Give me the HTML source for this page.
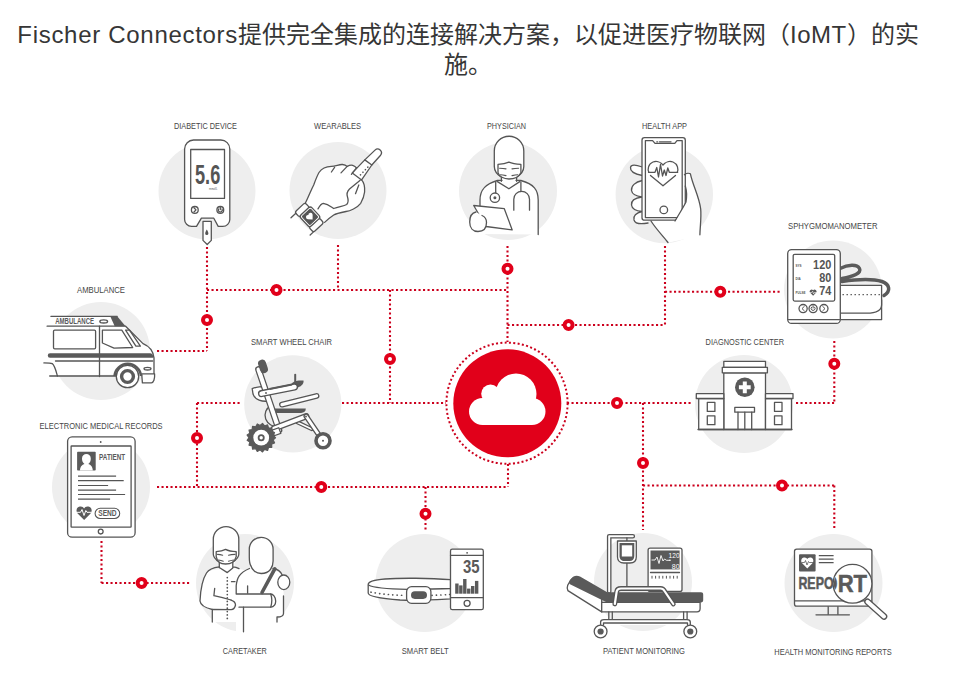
<!DOCTYPE html>
<html lang="zh-CN"><head><meta charset="utf-8"><style>
html,body{margin:0;padding:0;background:#fff;width:977px;height:699px;overflow:hidden}
.t{position:absolute;left:0;top:0;width:936px;text-align:center;font-family:"Liberation Sans",sans-serif;font-size:24px;line-height:30px;color:#363636;padding-top:20px}
.t span{letter-spacing:0.7px} .t b{font-weight:normal;letter-spacing:0.5px}
svg{position:absolute;left:0;top:0}
.lb{font-family:"Liberation Sans",sans-serif;font-size:9.6px;fill:#464646}
.ic{fill:none;stroke:#555;stroke-width:1.3;stroke-linejoin:round;stroke-linecap:round}
</style></head><body>
<div class="t"><span>Fischer Connectors</span>提供完全集成的连接解决方案，以促进医疗物联网（<b>IoMT</b>）的实<br>施。</div>
<svg width="977" height="699" viewBox="0 0 977 699">
<circle cx="207" cy="191" r="48.5" fill="#eeeeee"/>
<circle cx="338" cy="190.5" r="48.5" fill="#eeeeee"/>
<circle cx="508" cy="191" r="49" fill="#eeeeee"/>
<circle cx="664.3" cy="194.5" r="48.7" fill="#eeeeee"/>
<circle cx="833" cy="289.5" r="49" fill="#eeeeee"/>
<circle cx="101" cy="351" r="49" fill="#eeeeee"/>
<circle cx="292.8" cy="403.8" r="48.6" fill="#eeeeee"/>
<circle cx="744" cy="404" r="49" fill="#eeeeee"/>
<circle cx="101" cy="487" r="49" fill="#eeeeee"/>
<circle cx="245" cy="583" r="49" fill="#eeeeee"/>
<circle cx="424.5" cy="583" r="49" fill="#eeeeee"/>
<circle cx="643" cy="582" r="49" fill="#eeeeee"/>
<circle cx="833.5" cy="583" r="49" fill="#eeeeee"/>
<path d="M207 247L207 351 M157 351L207 351 M207 290L507 290 M338 245L338 290 M390 290L390 403 M507.5 246L507.5 342 M507.5 325L665 325 M665 246L665 325 M665 291.8L782 291.8 M834.3 341L834.3 403 M796 403L834.3 403 M197 403L240 403 M342 403L446 403 M197 403L197 487 M157 487L508 487 M508 464L508 487 M425.5 487L425.5 531 M567 403L692 403 M643 403L643 530 M643 485.5L834.3 485.5 M834.3 485.5L834.3 530 M101.5 541L101.5 583 M101.5 583L191 583" stroke="#cc001d" stroke-width="2.1" stroke-dasharray="2.1 2.4" fill="none"/>
<circle cx="507" cy="403.2" r="60.6" fill="none" stroke="#cc001d" stroke-width="2" stroke-dasharray="2 2.35"/>
<circle cx="507.3" cy="403.3" r="54" fill="#e1001a"/>
<g fill="#fff"><circle cx="482.5" cy="411.5" r="13.5"/><circle cx="490.5" cy="393.8" r="9.3"/><circle cx="516" cy="394" r="20.5"/><circle cx="532" cy="411.5" r="13.5"/><rect x="482.5" y="400" width="49.5" height="25"/></g>
<circle cx="276.5" cy="290" r="4" fill="#fff" stroke="#e1001a" stroke-width="4"/>
<circle cx="207" cy="320" r="4" fill="#fff" stroke="#e1001a" stroke-width="4"/>
<circle cx="507.5" cy="268.8" r="4" fill="#fff" stroke="#e1001a" stroke-width="4"/>
<circle cx="568.6" cy="325" r="4" fill="#fff" stroke="#e1001a" stroke-width="4"/>
<circle cx="720.3" cy="291.8" r="4" fill="#fff" stroke="#e1001a" stroke-width="4"/>
<circle cx="834.3" cy="363.7" r="4" fill="#fff" stroke="#e1001a" stroke-width="4"/>
<circle cx="197" cy="438" r="4" fill="#fff" stroke="#e1001a" stroke-width="4"/>
<circle cx="321.3" cy="487" r="4" fill="#fff" stroke="#e1001a" stroke-width="4"/>
<circle cx="425.5" cy="513.8" r="4" fill="#fff" stroke="#e1001a" stroke-width="4"/>
<circle cx="617" cy="403" r="4" fill="#fff" stroke="#e1001a" stroke-width="4"/>
<circle cx="643" cy="463" r="4" fill="#fff" stroke="#e1001a" stroke-width="4"/>
<circle cx="782" cy="485.5" r="4" fill="#fff" stroke="#e1001a" stroke-width="4"/>
<circle cx="141.6" cy="583" r="4" fill="#fff" stroke="#e1001a" stroke-width="4"/>
<circle cx="390" cy="359" r="4" fill="#fff" stroke="#e1001a" stroke-width="4"/>
<text x="174" y="129" textLength="63.0" lengthAdjust="spacingAndGlyphs" class="lb">DIABETIC DEVICE</text>
<text x="314" y="129" textLength="47.0" lengthAdjust="spacingAndGlyphs" class="lb">WEARABLES</text>
<text x="487" y="129" textLength="39.0" lengthAdjust="spacingAndGlyphs" class="lb">PHYSICIAN</text>
<text x="642" y="129" textLength="45.0" lengthAdjust="spacingAndGlyphs" class="lb">HEALTH APP</text>
<text x="788" y="229" textLength="89.5" lengthAdjust="spacingAndGlyphs" class="lb">SPHYGMOMANOMETER</text>
<text x="77" y="293" textLength="48.0" lengthAdjust="spacingAndGlyphs" class="lb">AMBULANCE</text>
<text x="251" y="345" textLength="81.0" lengthAdjust="spacingAndGlyphs" class="lb">SMART WHEEL CHAIR</text>
<text x="705.6" y="345" textLength="78.4" lengthAdjust="spacingAndGlyphs" class="lb">DIAGNOSTIC CENTER</text>
<text x="39.6" y="429" textLength="123.0" lengthAdjust="spacingAndGlyphs" class="lb">ELECTRONIC MEDICAL RECORDS</text>
<text x="222.8" y="654" textLength="44.0" lengthAdjust="spacingAndGlyphs" class="lb">CARETAKER</text>
<text x="401.7" y="654" textLength="47.1" lengthAdjust="spacingAndGlyphs" class="lb">SMART BELT</text>
<text x="603" y="654" textLength="82.0" lengthAdjust="spacingAndGlyphs" class="lb">PATIENT MONITORING</text>
<text x="774.3" y="654.5" textLength="117.4" lengthAdjust="spacingAndGlyphs" class="lb">HEALTH MONITORING REPORTS</text>
<g class="ic">
<path d="M193.5 140 H220.8 A9 9 0 0 1 229.8 149 V219.4 A7 7 0 0 1 222.8 226.4 H218.2 L213.8 218.2 H201.4 L196.5 226.4 H191.5 A7 7 0 0 1 184.6 219.4 V149 A9 9 0 0 1 193.5 140 Z" fill="#fff"/>
<rect x="190.7" y="149.5" width="33.8" height="48.9" fill="#fff"/>
<circle cx="194.8" cy="209.9" r="3.4"/><path d="M194 207.8 L196 209.9 L194 212" />
<circle cx="220.3" cy="209.9" r="3.4"/><path d="M218.6 209 A2 2 0 1 0 222 209"/><path d="M220.3 207.4 V209.5"/>
<path d="M203 221.4 H211.3 V240.4 L207.2 244.5 L203 240.4 Z" fill="#fff"/>
</g>
<path d="M206.8 229.5 C205.6 231.6 205.2 232.5 205.2 233.4 A1.6 1.6 0 0 0 208.4 233.4 C208.4 232.5 208 231.6 206.8 229.5Z" fill="#555"/>
<text x="195" y="184.4" textLength="25.3" lengthAdjust="spacingAndGlyphs" font-family="Liberation Sans" font-weight="bold" font-size="27.5" fill="#555">5.6</text>
<text x="209" y="189.8" font-family="Liberation Sans" font-size="2.6" fill="#555" textLength="8.5" lengthAdjust="spacingAndGlyphs">mmol/L</text><g class="ic">
<path d="M305.5 202.8 C309 196 311 190 313.7 185 C315.5 180 317 176 319 172.5 C322 168 327 166.5 331.4 166.4 C336 166.3 339 164.2 342.5 164.5 C345 164.7 346.2 165.5 347.2 166.4 C349.5 165.2 351.5 165 352.7 165.4 C354.5 166 355.8 167 356.5 168 L364.8 159.9 L375 150.1 A3.8 3.8 0 0 1 380.6 155.2 L371.8 165 L361.6 179.9 C364.5 183 365 186 364.6 192 C364 197 362 201 360.7 203.3 C357 208 350 211 346 211.5 C341 212.5 336 213.5 333.7 215 C330 217.5 327 220 324.6 222.4 L310 225 L298 214 Z" fill="#fff" stroke="none"/>
<path d="M305.5 202.8 C309 196 311 190 313.7 185 C315.5 180 317 176 319 172.5 C322 168 327 166.5 331.4 166.4 C336 166.3 339 164.2 342.5 164.5 C345 164.7 346.2 165.5 347.2 166.4 C349.5 165.2 351.5 165 352.7 165.4 C354.5 166 355.8 167 356.5 168"/>
<path d="M334.6 167.3 L331.4 172 M347.2 166.4 L341 172.9 M356.5 167.8 L351.4 174.3"/>
<path d="M352.3 172.9 L364.8 159.9 L371.8 165 L361.6 179.9 Z"/>
<path d="M360.5 174.8 L368 167" stroke-dasharray="0.1 3.4" stroke-width="1.6"/>
<path d="M364.8 159.9 L375 150.1 A3.8 3.8 0 0 1 380.6 155.2 L371.8 165"/>
<path d="M360.2 180.3 L349.5 189 C347 191.5 346.5 194 347.5 197 C348.5 200 349 202 346.7 204.5 C344 206 340 206.5 333.7 208.5 C330 206 328 204 323.3 203.3 C321 203.5 319.5 206 318 208.9"/>
<path d="M361.6 179.9 C364.5 183 365 186 364.6 192 C364 197 362 201 360.7 203.3 C357 208 350 211 346 211.5 C341 212.5 336 213.5 333.7 215 C330 217.5 327 220 324.6 222.4"/>
<path d="M358.8 185 L355.5 193.7"/>
<g transform="translate(310 216.8) rotate(-43)">
<rect x="-8" y="-13.8" width="14" height="7" rx="2.2" fill="#fff"/>
<rect x="-8" y="6.8" width="14" height="7" rx="2.2" fill="#fff"/>
<path d="M-8 -12.2 H-14.6 M-7.7 13.4 H-12.3" transform="translate(0 0)"/>
<rect x="-7.6" y="-7.6" width="15.2" height="15.2" rx="2.5" fill="#fff"/>
<rect x="-5.6" y="-5.6" width="11.2" height="11.2" rx="1" fill="#555" stroke-width="1"/>
<path d="M0 3.8 L-3.3 0.3 A1.9 1.9 0 0 1 0 -2.4 A1.9 1.9 0 0 1 3.3 0.3 Z" fill="#fff" stroke="none" transform="rotate(0)"/>
</g>
</g><path d="M480 234 V200 C480 190 485 184 497.4 180.5 L501.4 180 V177.3 C498 175 494.3 171 494.3 166.4 V151 A14.75 14.75 0 0 1 523.8 151 V166.4 C523.8 171 520 175 516.6 177.3 V180 L520.9 180.5 C534 184 538.2 190 538.2 200 V234.6 Z" fill="#fff"/>
<g class="ic">
<path d="M480 206 V200 C480 190 485 184 497.4 180.5 L502 180.3 M516 180.3 L520.9 180.5 C534 184 538.2 190 538.2 200 V234.6"/>
<path d="M501.4 181.3 V177.3 C498 175 494.3 171 494.3 166.4 V151 A14.75 14.75 0 0 1 523.8 151 V166.4 C523.8 171 520 175 516.6 177.3 V181.3"/>
<path d="M497.4 181.6 L508.9 188.8 L519.8 181.6"/>
<path d="M498 164.4 C502 164.2 506 163.5 508.9 162.2 C511.8 163.5 516 164.2 520.9 164.4 V172.7 C519 176.5 514 179 508.9 179 C503.8 179 499 176.5 498 172.7 Z" fill="#fff"/>
<path d="M499.6 168.2 C502 168.3 504 168.5 506 168.9 M512 168.9 C514 168.5 516 168.3 518.6 168.2 M500.5 174.7 C502.5 174.9 504 175.2 506 175.6 M512 175.6 C514 175.2 515.5 174.9 517.8 174.7" stroke-width="1.1"/>
<path d="M495.7 182 V193"/>
<circle cx="494.9" cy="197.7" r="4.7" fill="#fff"/>
<path d="M520.9 182 V191.5"/>
<path d="M513.8 210.2 V199.2 A7.85 7.85 0 0 1 529.5 199.2 V210.2"/>
<path d="M473.7 205.5 L504.3 208.7 L512.2 229.9 L486 226.5 Z" fill="#fff"/>
<path d="M476 212 C471 213 469.7 217 469.7 222 C469.7 228 473 231.5 478 231.5 C483 231.5 486.5 228.5 486.5 222.5 C486.5 219 484.5 216.5 482 215.5" fill="#fff"/>
</g>
<circle cx="494.9" cy="197.7" r="1.5" fill="#555"/><g class="ic">
<path d="M642.3 167 C636 165 631 164 630.5 167.5 C630 171 635 174 642.3 175.5 M642.3 180.5 C635 182 631 186 631.5 190.5 C632 194 636 196 642 197 C635 198 631 201 631.5 205 C632 209 636 211 642 211.5 C636 213 633 216 634 220 C635 223.5 640 224.5 648 223" fill="#fff"/>
<path d="M645 219 L651 221 L668 242.5 L700 236 L686 200 Z" fill="#fff" stroke="none"/>
<rect x="642" y="137.7" width="43.3" height="82.5" rx="2.5" fill="#fff"/>
<path d="M645.4 217.6 V140.6 H652.6 L655 143.4 H674.8 L677 140.6 H682.2 V217.6 Z"/>
<path d="M659.5 141.8 H671 M656.8 141.8 H657.6"/>
<circle cx="663.8" cy="209.9" r="3.8"/>
<path d="M648.8 172.3 C647.5 169.5 648 164 653 162 C657 160.5 661 162.5 663 165 C665 162.5 669 160.5 673 162 C678 164 678.5 169.5 677.3 172.3 M650.5 175.5 L663 185.8 L675.5 175.5"/>
<path d="M648.5 172.3 H655 L656.8 167.5 L658.5 177 L660.5 164.5 L662.5 176 L664.3 170 L666 175.5 L667.8 168 L669.3 172.3 H677.7"/>
<path d="M675 222 C679 214 683 208 686 202 L686 174.5 C687.5 173.5 689 173 690.4 173.8 C693 186 699 196 700.7 209 C701.5 218 700 227 699.9 234.8 L668 242.5 Z" fill="#fff" stroke="none"/>
<path d="M651 221 C656 229 663 236 668 242.5" />
<path d="M684.4 174.7 C686 173.5 689 173 690.4 173.8 C693 186 699 196 700.7 209 C701.5 218 700 227 699.9 234.8 M675 221 C679 214 683 208 686 202 C687 196 686.5 190 685.3 186"/>
</g><path d="M840 268.5 C848 264.5 857 264 859.5 268.5 C862 273 853 276.5 842 278.5 M842 281.5 C856 279.5 872 278.5 882 281.5 C890 284.5 891 291 884 295.5" fill="none" stroke="#5a5a5a" stroke-width="3.5" stroke-linecap="round"/>
<g class="ic">
<path d="M840.3 300 V319.7 H881.6 V300" fill="#fff"/>
<path d="M840.3 285.3 H881.6 V304.8 C881.6 310 877 313.2 866.7 313.2 H840.3" fill="#fff"/>
<path d="M842.5 294.6 H880" stroke-dasharray="1.4 2.6" stroke-linecap="butt"/>
<rect x="787.7" y="249.6" width="52.6" height="73.8" rx="4" fill="#fff"/>
<path d="M788.5 319.6 H839.5"/>
<rect x="793.2" y="254.3" width="41.5" height="46.8" rx="1.5"/>
<circle cx="803.1" cy="308.6" r="4.1"/><circle cx="813.1" cy="308.6" r="4.1"/><circle cx="823.9" cy="308.6" r="4.1"/>
<path d="M804.3 306.4 L802 308.6 L804.3 310.8 M822.7 306.4 L825 308.6 L822.7 310.8 M811.5 307.2 A2 2 0 1 0 814.7 307.2 M813.1 305.8 V308" stroke-width="1"/>
</g>
<text x="813.1" y="268.6" textLength="18.3" lengthAdjust="spacingAndGlyphs" font-family="Liberation Sans" font-weight="bold" fill="#555" font-size="13.5">120</text>
<text x="819.3" y="281.6" textLength="12.1" lengthAdjust="spacingAndGlyphs" font-family="Liberation Sans" font-weight="bold" fill="#555" font-size="13">80</text>
<text x="819.3" y="295.2" textLength="12.1" lengthAdjust="spacingAndGlyphs" font-family="Liberation Sans" font-weight="bold" fill="#555" font-size="13.5">74</text>
<text x="795.5" y="266.5" font-family="Liberation Sans" font-weight="bold" fill="#555" font-size="3" font-weight="normal">SYS</text>
<text x="795.5" y="280.3" font-family="Liberation Sans" font-weight="bold" fill="#555" font-size="3" font-weight="normal">DIA</text>
<text x="795.5" y="294" font-family="Liberation Sans" font-weight="bold" fill="#555" font-size="3" font-weight="normal">PULSE</text>
<path d="M813.1 295.8 L810 292.6 A1.75 1.75 0 0 1 813.1 290.3 A1.75 1.75 0 0 1 816.2 292.6 Z" fill="#5a5a5a"/><path d="M810 292.5 H811.8 L812.6 291.2 L813.6 294 L814.3 292.5 H816.2" stroke="#fff" stroke-width="0.6" fill="none"/><g class="ic">
<path d="M50.9 316.3 H117.2 L125.6 326.2 L143 343.6 C149 346 153 350 154 357.8 V374.5 H116 L49.7 376 L57.4 376 C55 370 54 365 52.2 363.6 L47 362.9 V326.2 Z" fill="#fff" stroke="none"/>
<path d="M50.9 316.3 H117.2 M47.1 326.2 H125.6 L143 343.6 C149 346 153 350 154 357.8 V374.5"/>
<rect x="53.5" y="330.1" width="42.1" height="18.7" rx="1.2"/>
<path d="M99.5 326.2 V376.5"/>
<path d="M102.4 330.1 H121.8 L132.7 347.5 L114 348.1 L102.4 343 Z"/>
<path d="M125.6 330.1 L129.5 330.1 L140.4 346.2 L135.9 346.2 Z"/>
<path d="M55.5 361 H152.7"/>
<path d="M49.7 376 H116"/>
<path d="M43.9 362.9 C48 362.9 51 363 52.2 363.6 C55 366 56 371 57.4 376"/>
<path d="M141.7 373.9 H154.6 C155 379 153.5 382.9 151.4 382.9 H142.4 Z" fill="#fff"/>
<ellipse cx="103.7" cy="321.4" rx="3.9" ry="1.6"/>
<ellipse cx="147.5" cy="368.7" rx="3.5" ry="1.3"/>
</g>
<path d="M110.2 316.3 H117.2 L125.6 326.2 H114.7 Z" fill="#5a5a5a"/>
<path d="M50 353.3 H150 C152 353.3 153.3 355 153.3 357.8 H50 A2.25 2.25 0 0 1 50 353.3 Z" fill="#5a5a5a"/>
<path d="M114.5 376 A13.3 13.3 0 0 1 141 376" fill="none" stroke="#5a5a5a" stroke-width="2.6"/>
<circle cx="127.5" cy="376.5" r="11.2" fill="#fff" stroke="#555" stroke-width="1.3"/>
<circle cx="127.5" cy="376.5" r="5.9" fill="none" stroke="#5a5a5a" stroke-width="3.4"/>
<text x="55.2" y="324.1" textLength="38.9" lengthAdjust="spacingAndGlyphs" font-family="Liberation Sans" font-weight="bold" font-size="8.4" fill="#5a5a5a">AMBULANCE</text><g class="ic"><path d="M271 405.5 A11 11 0 0 0 278.5 426" /></g><path d="M252.2 388.6 C256 387 263 386 265 387.5 L269 401 C262 402 255 400 253 394 Z" fill="#fff" stroke="#555" stroke-width="1.3" stroke-linejoin="round"/><path d="M258.5 369.5L279 430" stroke="#555" stroke-width="6.7" stroke-linecap="round" fill="none"/><path d="M258.5 369.5L279 430" stroke="#fff" stroke-width="4.1000000000000005" stroke-linecap="round" fill="none"/><path d="M290 386 C292 381 297 380 303.5 380.5 C304 383 302 386 298 387.5 Z" fill="#5a5a5a"/><path d="M295.2 382 V374.8" stroke="#5a5a5a" stroke-width="2" stroke-linecap="round"/><path d="M261.5 393.6L294.5 387" stroke="#555" stroke-width="7.1" stroke-linecap="round" fill="none"/><path d="M261.5 393.6L294.5 387" stroke="#fff" stroke-width="4.5" stroke-linecap="round" fill="none"/><path d="M269.5 389 L292 384.5" stroke="#5a5a5a" stroke-width="1.9" /><rect x="259" y="359.5" width="8" height="13.8" rx="3.8" fill="#5a5a5a" transform="rotate(-18 263 366.4)"/><path d="M274.3 408.6 H305.8 C305.8 411.5 304 413 301 413 H276 Z" fill="#5a5a5a"/><path d="M282 404.6L316.5 396" stroke="#555" stroke-width="5.8999999999999995" stroke-linecap="round" fill="none"/><path d="M282 404.6L316.5 396" stroke="#fff" stroke-width="3.3" stroke-linecap="round" fill="none"/><path d="M297.2 422.2L311.5 429" stroke="#555" stroke-width="4.1" stroke-linecap="round" fill="none"/><path d="M297.2 422.2L311.5 429" stroke="#fff" stroke-width="1.4999999999999998" stroke-linecap="round" fill="none"/><path d="M274 428.5L306.2 416.2" stroke="#555" stroke-width="6.3" stroke-linecap="round" fill="none"/><path d="M274 428.5L306.2 416.2" stroke="#fff" stroke-width="3.7" stroke-linecap="round" fill="none"/><path d="M306.2 416.2L322.5 440.3" stroke="#555" stroke-width="5.5" stroke-linecap="round" fill="none"/><path d="M306.2 416.2L322.5 440.3" stroke="#fff" stroke-width="2.9000000000000004" stroke-linecap="round" fill="none"/><circle cx="306" cy="416.5" r="0.9" fill="#555"/><circle cx="266" cy="393" r="0.9" fill="#555"/><rect x="273" y="429" width="7" height="6" fill="#fff" stroke="#555" stroke-width="1.2" transform="rotate(-20 276 432)"/><path d="M275.50 437.70 L273.19 439.94 L274.53 442.87 L271.57 444.12 L271.77 447.33 L268.55 447.44 L267.57 450.50 L264.54 449.43 L262.52 451.94 L260.07 449.85 L257.29 451.45 L255.76 448.62 L252.58 449.11 L252.18 445.92 L249.04 445.23 L249.82 442.11 L247.14 440.33 L249.00 437.70 L247.14 435.07 L249.82 433.29 L249.04 430.17 L252.18 429.48 L252.58 426.29 L255.76 426.78 L257.29 423.95 L260.07 425.55 L262.52 423.46 L264.54 425.97 L267.57 424.90 L268.55 427.96 L271.77 428.07 L271.57 431.28 L274.53 432.53 L273.19 435.46Z" fill="#5a5a5a" stroke="#5a5a5a" stroke-width="1.2" stroke-linejoin="round"/><circle cx="261.2" cy="437.7" r="7.9" fill="#fff"/><circle cx="261.2" cy="437.7" r="2.6" fill="none" stroke="#5a5a5a" stroke-width="1.8"/><circle cx="323" cy="440.8" r="7" fill="#fff" stroke="#5a5a5a" stroke-width="3.6"/><circle cx="323" cy="440.8" r="1" fill="#555"/><g class="ic" stroke-linecap="butt" stroke-linejoin="miter">
<rect x="723.8" y="361.3" width="41.7" height="6" fill="#fff"/>
<rect x="723.8" y="372.8" width="41.7" height="56.7" fill="#fff"/>
<rect x="722.3" y="367.3" width="45.1" height="5.5" fill="#fff"/>
<rect x="698.7" y="398.5" width="25.1" height="31" fill="#fff"/>
<rect x="765.5" y="398.5" width="26" height="31" fill="#fff"/>
<rect x="696.3" y="393.7" width="27.5" height="4.8" fill="#fff"/>
<rect x="765.5" y="393.7" width="27.5" height="4.8" fill="#fff"/>
<rect x="707.3" y="402.4" width="7.6" height="9"/><rect x="707.3" y="415.8" width="7.6" height="8.9"/>
<rect x="774.5" y="402.4" width="7.5" height="9"/><rect x="774.5" y="415.8" width="7.5" height="8.9"/>
<rect x="734.8" y="407.4" width="19.7" height="4.8" fill="#fff"/>
<path d="M738 412.2 V429.5 M751.7 412.2 V429.5 M744.8 412.2 V429.5"/>
<path d="M698 429.5 H792"/>
</g>
<circle cx="744.8" cy="387.3" r="9.8" fill="#5a5a5a"/>
<path d="M742.8 381.4 H746.8 V385.3 H750.7 V389.3 H746.8 V393.2 H742.8 V389.3 H738.9 V385.3 H742.8 Z" fill="#fff"/><g class="ic">
<rect x="67.6" y="436.8" width="67.5" height="100.4" rx="4.5" fill="#fff"/>
<rect x="71.1" y="446" width="60" height="81.2" rx="0.5"/>
<circle cx="100.7" cy="531.6" r="2.4"/>
<path d="M78 476.1 H116.1 M78 480.7 H123.7 M78 485.5 H108.1 M78 490.1 H116.1 M78 494.5 H125.1 M78 499.1 H110.1" stroke-width="1.2" stroke-linecap="butt"/>
<rect x="95.1" y="508.3" width="24.6" height="10.2" rx="5.1" stroke-width="1.1"/>
</g>
<circle cx="100.7" cy="442" r="0.9" fill="#555"/>
<rect x="77.1" y="451.7" width="18.6" height="18.8" rx="0.8" fill="#5a5a5a"/>
<path d="M80 470.5 C80 466 83 464.5 84.5 464 C82.5 462.5 82 460.5 82 458.5 C82 455.5 84 454 86.4 454 C88.8 454 90.8 455.5 90.8 458.5 C90.8 460.5 90.3 462.5 88.3 464 C89.8 464.5 92.8 466 92.8 470.5 Z" fill="#fff"/>
<text x="99.1" y="460" textLength="26" lengthAdjust="spacingAndGlyphs" font-family="Liberation Sans" font-weight="bold" font-size="9.4" fill="#5a5a5a">PATIENT</text>
<text x="98.2" y="516.4" textLength="18.5" lengthAdjust="spacingAndGlyphs" font-family="Liberation Sans" font-weight="bold" font-size="8.6" fill="#5a5a5a">SEND</text>
<path d="M84.1 520 L77.6 513.5 C75.8 511.5 76 507.5 79.8 506.6 C82 506.2 83.3 507.3 84.1 508.5 C84.9 507.3 86.2 506.2 88.4 506.6 C92.2 507.5 92.4 511.5 90.6 513.5 Z" fill="#5a5a5a"/>
<path d="M76.5 512.3 H80.5 L82 509.5 L84 515.5 L85.8 510.5 L87 512.3 H91.5" fill="none" stroke="#fff" stroke-width="1"/><path d="M212.3 622 V609.5 C206 608 200.5 606 200 601 C200.5 590 202 580 206.5 573 C210 570 215 569.5 219.7 569.3 V563.6 C216 561 213.1 558 213.1 554 V539.3 A12.75 12.75 0 0 1 238.6 539.3 V554 C238.6 558 236 561 234.5 563.6 V568.5 C242 569 244 570 246 571 L246 622 Z" fill="#fff"/>
<g class="ic">
<path d="M212.3 622 V609.5 C206 608 200.5 606 200 601 C200.5 590 202 580 206.5 573 C209 569 214 567.5 219.3 566.9"/>
<path d="M219.3 567.5 V562.3 C216 560 213.3 557.5 213.3 554.3 V539.3 A12.75 12.75 0 0 1 238.8 539.3 V554.3 C238.8 557.5 236 560 232.8 562.3 V567.5 M232.8 566.9 C235 567 237 567.5 239 568.6"/>
<path d="M219.3 567.5 L227.3 572.6 L232.8 568"/>
<path d="M216.2 551.7 C219.5 551.5 223 550.8 225.6 549.4 C228.2 550.8 231.5 551.5 236.2 551.7 V556.6 C235 561 231 564 225.6 564 C220.2 564 217 561 216.2 556.6 Z" fill="#fff"/>
<path d="M217.5 554.4 C219 554.5 221 554.8 222.7 555.2 M228.5 555.2 C230 554.8 232 554.5 235 554.4 M218.4 560 C220 560.3 221.7 560.7 223.3 561.2 M228.5 561.2 C230 560.7 232 560.3 233.6 560" stroke-width="1.1"/>
<path d="M214.7 588.3 L213.9 595.7 C220 597 226 598.5 231 600"/>
<path d="M227.3 577.5 V621.5" stroke-dasharray="0.1 3.3" stroke-width="1.7"/>
<path d="M231.5 581.7 H235"/>
</g>
<path d="M236 632 V585.8 C237 578 239 573 249.3 568.5 L251 566 C249.5 564 249.3 561 249.3 557 V549.2 A11.9 11.9 0 0 1 273.1 549.2 V561 C273.1 567 271 571 270 572 C276 570 281 572 283.5 576 V613.5 C283.5 616 281 617 277 617 V632 Z" fill="#fff"/>
<g class="ic">
<path d="M251 566 C249.5 564 249.3 561 249.3 557 V549.2 A11.9 11.9 0 0 1 273.1 549.2 V561 C273.1 567 270 573.5 261.2 573.5 C256 573.5 252 570 251 566 Z"/>
<path d="M249.5 568.5 C239 573 237 578 236.2 585.8 V594 H270.7 C273 594 275.5 597 275.6 600.6 C276 604 274 607 270.7 607.2 H239"/>
<path d="M231 600 C234.5 601 235.5 603 235.5 605 C235 607.5 233 609.5 231.2 609.6 C226 609.5 216 609.5 212.3 609.5"/>
<path d="M243.5 607.2 V631.8 M247.6 585.8 V593.2 M270.7 594 C272 597.5 272 603 270.7 607.2"/>
<path d="M273 568.5 C278 569 281 572 282.5 575.5" />
<path d="M283.5 596 V613.5 C283.5 616 281 617 277 617 V622"/>
<ellipse cx="283.8" cy="582.3" rx="6" ry="7.3" fill="#fff"/>
</g>
<path d="M274.8 568.8 L262 592.5" stroke="#5a5a5a" stroke-width="3.6" stroke-linecap="round"/><g class="ic">
<path d="M450.5 579.7 C430 578 400 577.8 385 579 C372 580 368.2 582 368.2 584.5 V593 C368.2 596 380 598.5 400 600 C420 601 440 599.5 450.5 598.9 Z" fill="#fff"/>
<path d="M368.5 585 C372 587 385 589 407.2 589.3 C425 589.2 440 588.8 450.5 588.6"/>
<path d="M371 592.2 C380 594 392 595 404 595.3 M432 595.3 C438 595.2 445 594.8 450 594.5" stroke-dasharray="0.1 4.3" stroke-width="1.7"/>
<rect x="406.6" y="586.7" width="24.3" height="16.6" rx="5" fill="#fff"/>
<rect x="450.5" y="549.2" width="32.8" height="60.5" rx="1.8" fill="#fff"/>
<path d="M450.5 555.4 H483.3 M450.5 597.6 H483.3"/>
<circle cx="467.1" cy="603.3" r="3"/>
</g>
<rect x="411" y="591.2" width="16" height="7.7" rx="3.85" fill="#5a5a5a"/>
<circle cx="467.1" cy="552.8" r="0.9" fill="#555"/>
<text x="462.9" y="572.6" textLength="16.6" lengthAdjust="spacingAndGlyphs" font-family="Liberation Sans" font-weight="bold" font-size="17.6" fill="#5a5a5a">35</text>
<rect x="455.2" y="583.5" width="3.4" height="10.2" fill="#5a5a5a"/><rect x="459.15" y="585.4" width="3.4" height="8.3" fill="#5a5a5a"/><rect x="463.1" y="579" width="3.4" height="14.7" fill="#5a5a5a"/><rect x="467.05" y="588.6" width="3.4" height="5.1" fill="#5a5a5a"/><rect x="471" y="586" width="3.4" height="7.7" fill="#5a5a5a"/><rect x="474.95" y="580.9" width="3.4" height="12.8" fill="#5a5a5a"/><g class="ic">
<path d="M609.2 591.4 V536.3 H632.8" stroke="#555" stroke-width="4.6" stroke-linecap="round" stroke-linejoin="round"/>
<path d="M609.2 591.4 V536.3 H632.8" stroke="#fff" stroke-width="2" stroke-linecap="round" stroke-linejoin="round"/>
<path d="M626.9 537.9 V541.5 M626.9 563 V586"/>
<path d="M617.5 541 H636.3 V557 C636.3 560.5 634 563 630 563 H623.8 C620 563 617.5 560.5 617.5 557 Z" fill="#fff"/>
<rect x="648.1" y="548.1" width="33.9" height="43.3" rx="2" fill="#fff"/>
<path d="M650.5 572.5 H679.5"/>
<path d="M651.5 577.2 H679.5" stroke-dasharray="1.1 3" stroke-width="2.6" stroke-linecap="butt" transform="rotate(90 651.5 577.2) translate(0 0)" style="display:none"/>
</g>
<path d="M652 575.8 V578.6 M655.6 575.8 V578.6 M659.2 575.8 V578.6 M662.8 575.8 V578.6 M666.4 575.8 V578.6 M670 575.8 V578.6 M673.6 575.8 V578.6 M677.2 575.8 V578.6" stroke="#555" stroke-width="1"/>
<path d="M619.5 543 H634.3 V556 C634.3 559 632.5 561 629.5 561 H624.3 C621.5 561 619.5 559 619.5 556 Z" fill="#5a5a5a"/>
<rect x="621.8" y="545.3" width="10.4" height="11.2" fill="#fff"/>
<rect x="650.5" y="550.5" width="29.1" height="18.9" fill="#5a5a5a"/>
<path d="M651.5 560 H655 L657 557 L659 563.5 L661 555.5 L663 561 L664.5 559 L666.5 560.3 H670" fill="none" stroke="#fff" stroke-width="0.9"/>
<circle cx="670" cy="560.3" r="0.8" fill="#fff"/>
<text x="668.6" y="557.5" textLength="11" lengthAdjust="spacingAndGlyphs" font-family="Liberation Sans" font-size="7.4" fill="#fff">120</text>
<text x="671.8" y="568.6" textLength="7.8" lengthAdjust="spacingAndGlyphs" font-family="Liberation Sans" font-size="7.4" fill="#fff">80</text>
<g class="ic">
<path d="M567.9 590.6 C566 587 568 584 571.8 578.8 L601.7 594 V611.9 L567.9 590.6 Z" fill="#fff"/>
<path d="M601.7 602.4 H700.1 V608.5 C700.1 610.5 699 611.9 697 611.9 H601.7 Z" fill="#fff"/>
<path d="M608.8 611.9 V619.7 M612.3 611.9 V619.7 M683.6 611.9 V619.7 M687.1 611.9 V619.7"/>
<path d="M600.6 625 V622 C600.6 620.5 602 619.7 604 619.7 H687 C689 619.7 690.3 620.5 690.3 622 V625 M603.5 625 V623 H687.5 V625" fill="#fff"/>
<circle cx="600.6" cy="631.5" r="6.4" fill="#fff"/><circle cx="690.3" cy="631.5" r="6.4" fill="#fff"/>
</g>
<circle cx="600.6" cy="631.5" r="3.1" fill="#5a5a5a"/><circle cx="690.3" cy="631.5" r="3.1" fill="#5a5a5a"/>
<path d="M571.5 578.5 C573 575.5 577 575 580 576.5 L607.2 592.2 H701 C702.5 592.2 703.2 593 703.2 594.5 V600 C703.2 601.5 702.5 602.4 701 602.4 H607 L569.5 584 C568.5 582 569.5 580 571.5 578.5 Z" fill="#5a5a5a"/>
<path d="M614.8 604 L616.7 591.5 C617 589.5 618.5 588.5 621 588.5 H660.5 C662.5 588.5 663.5 589 664.5 591 L673.3 604" stroke="#555" stroke-width="4.8" stroke-linecap="round" fill="none"/>
<path d="M614.8 604 L616.7 591.5 C617 589.5 618.5 588.5 621 588.5 H660.5 C662.5 588.5 663.5 589 664.5 591 L673.3 604" stroke="#fff" stroke-width="2.2" stroke-linecap="round" fill="none"/><g class="ic">
<rect x="794.5" y="549.1" width="77.4" height="57.1" rx="2.2" fill="#fff"/>
<path d="M795 600.8 H871.5 M828.2 606.2 V614.8 M837.9 606.2 V614.8" stroke-linecap="butt"/>
<path d="M816 614.8 H849.4"/>
<path d="M818.8 555.6 H833.6 M818.8 559.1 H833.6 M818.8 562.7 H833.6" stroke-linecap="butt"/>
</g>
<rect x="799" y="554.3" width="16.6" height="17.1" rx="1" fill="#5a5a5a"/>
<path d="M807.3 568.5 L802.2 563.3 C800.5 561.5 801 558 804 557.5 C805.8 557.2 806.8 558.2 807.3 559 C807.8 558.2 808.8 557.2 810.6 557.5 C813.6 558 814.1 561.5 812.4 563.3 Z" fill="#fff"/>
<path d="M801.5 562.5 H804.5 L805.5 560.5 L807 565 L808.5 561.5 L809.3 562.5 H813" fill="none" stroke="#5a5a5a" stroke-width="0.8"/>
<text x="798.4" y="589.2" textLength="35.2" lengthAdjust="spacingAndGlyphs" font-family="Liberation Sans" font-weight="bold" fill="#5a5a5a" font-size="16.6" stroke="#5a5a5a" stroke-width="0.5">REPO</text>
<path d="M867.5 601.8 L884 616.5" stroke="#555" stroke-width="6.6" stroke-linecap="round"/>
<path d="M867.5 601.8 L884 616.5" stroke="#fff" stroke-width="4" stroke-linecap="round"/>
<circle cx="852.5" cy="583.8" r="19.4" fill="#fff" stroke="#555" stroke-width="1.3"/>
<clipPath id="mg"><circle cx="852.5" cy="583.8" r="18.7"/></clipPath>
<g clip-path="url(#mg)"><text x="820.5" y="591.7" textLength="46.5" lengthAdjust="spacingAndGlyphs" font-family="Liberation Sans" font-weight="bold" fill="#5a5a5a" font-size="23.5" stroke="#5a5a5a" stroke-width="0.5">ORT</text></g>
</svg>
</body></html>
